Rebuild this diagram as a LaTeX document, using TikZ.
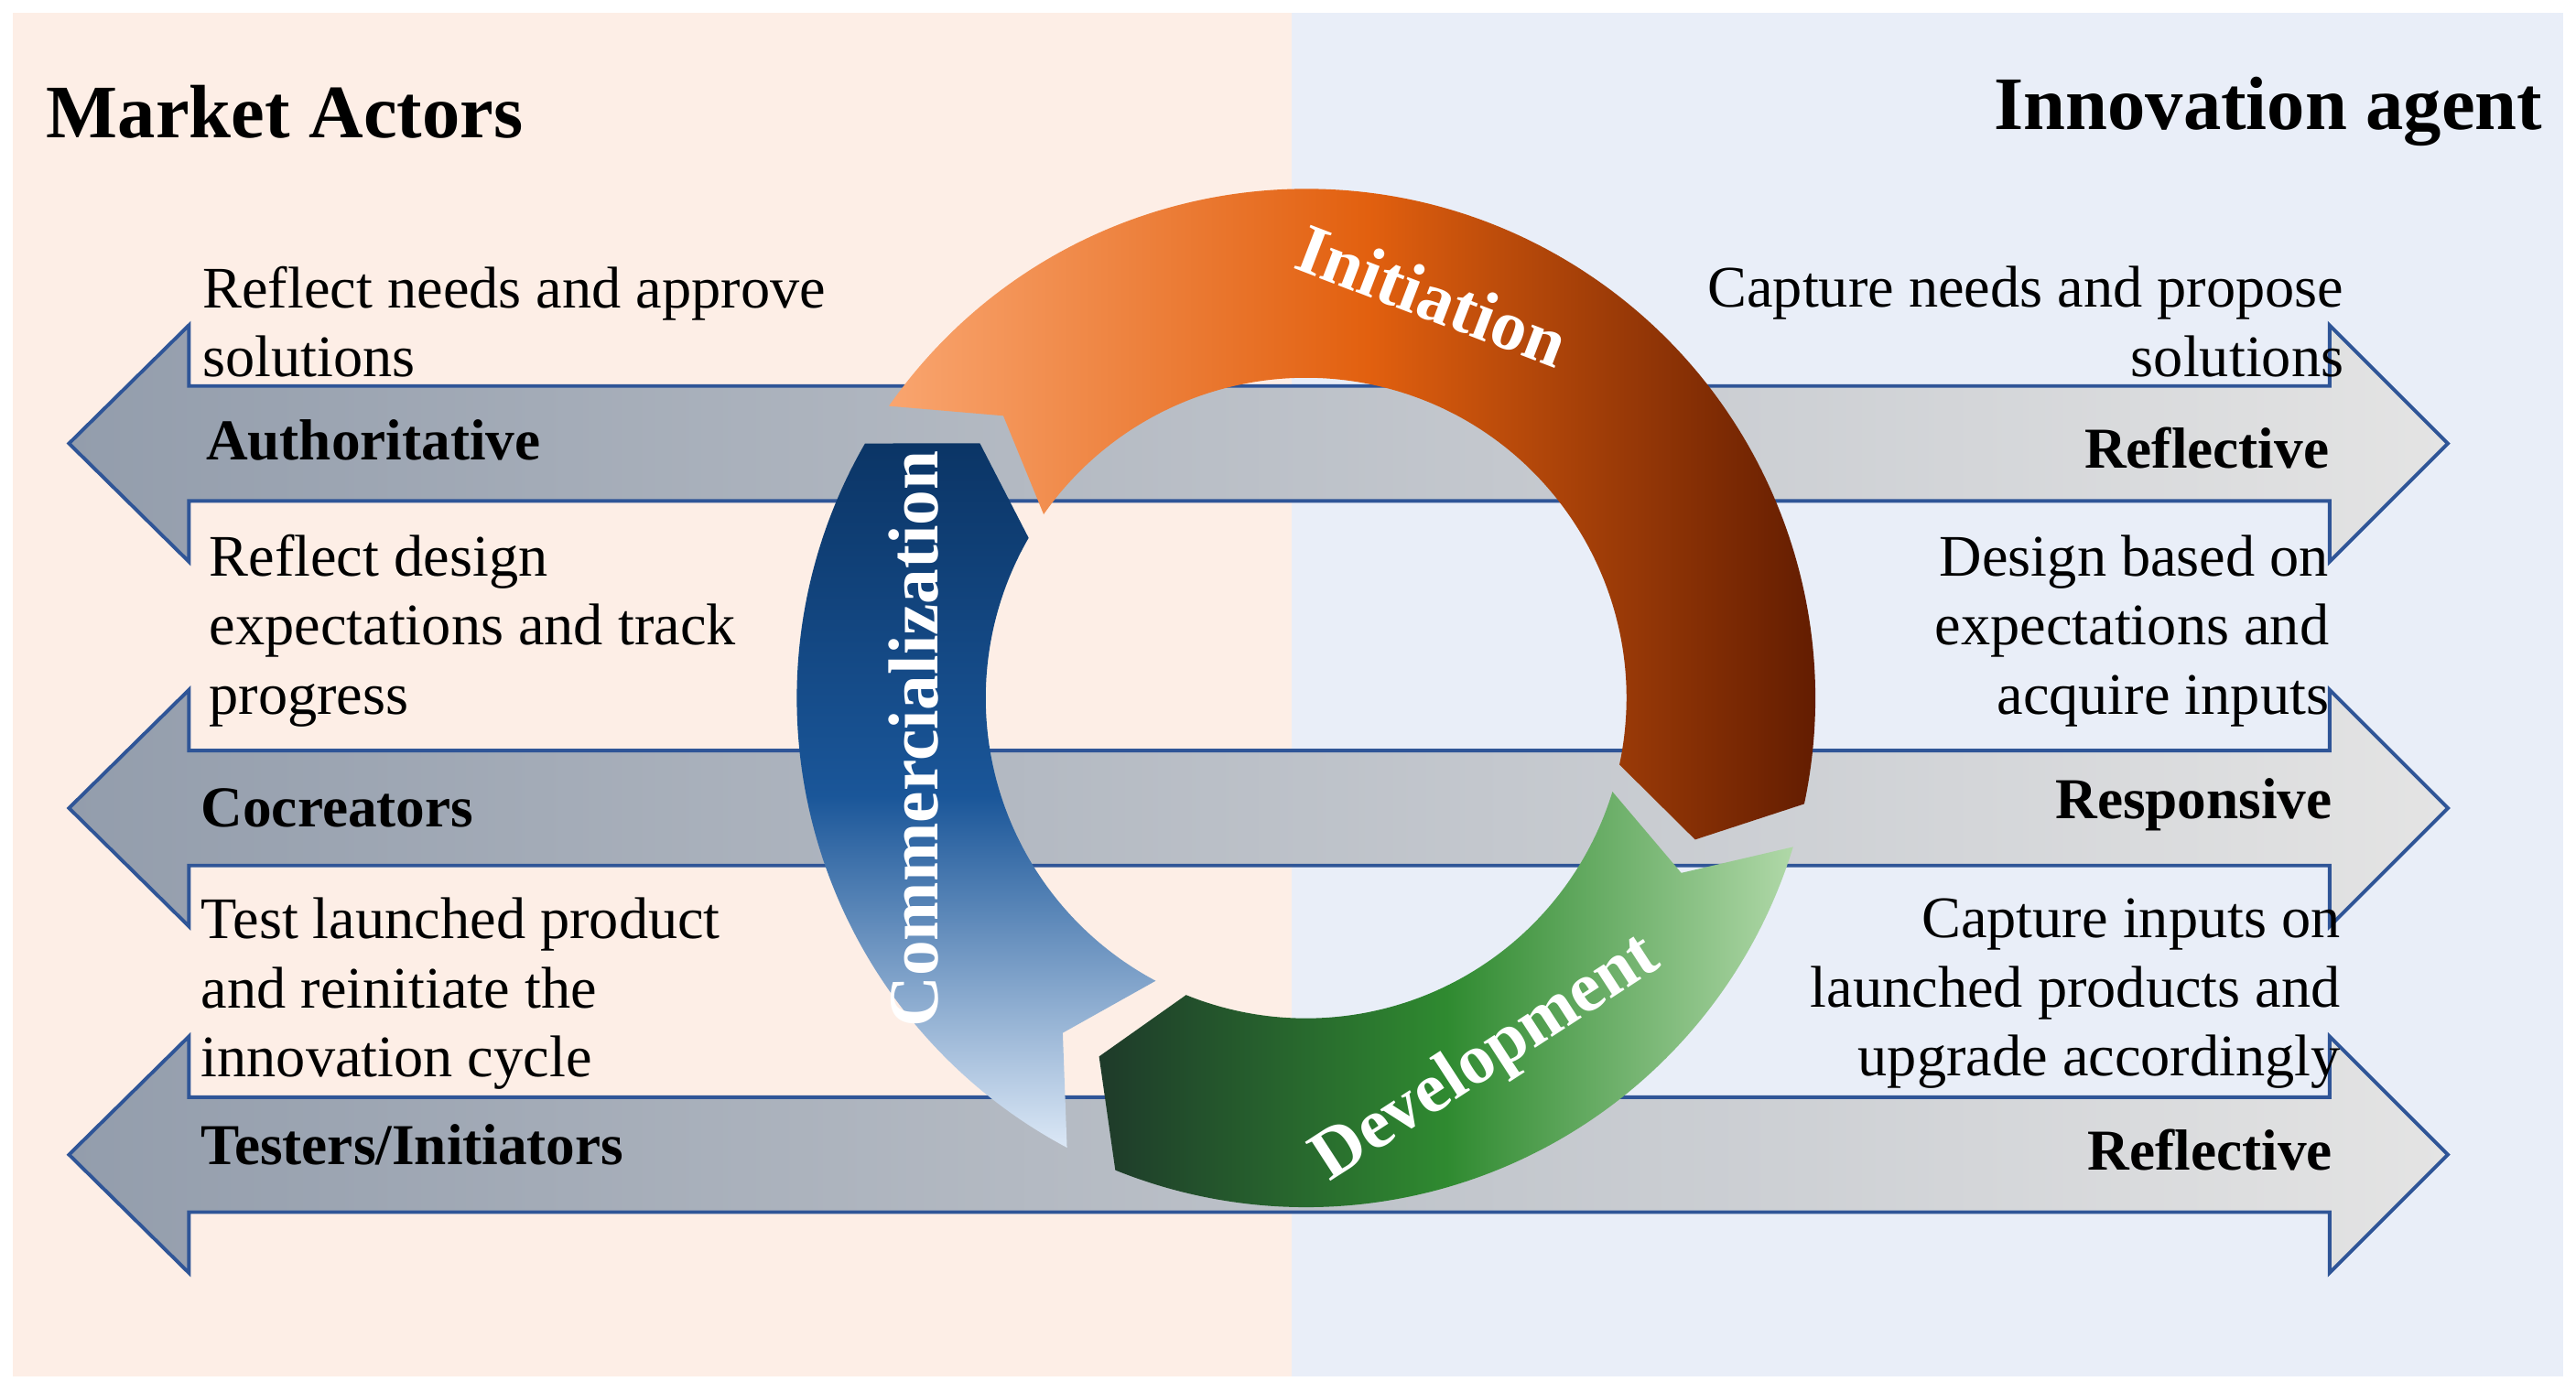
\documentclass[tikz,border=0pt]{standalone}
\usepackage{fontspec}
\setmainfont{Liberation Serif}
\usetikzlibrary{calc}
\definecolor{peach}{HTML}{FDEEE6}
\definecolor{paleblue}{HTML}{E9EEF8}
\definecolor{arrowline}{HTML}{2F5597}
\definecolor{arrowdark}{HTML}{939DAC}
\definecolor{arrowlight}{HTML}{E4E4E4}
\definecolor{initlight}{HTML}{F9A56F}
\definecolor{initmid}{HTML}{E2600F}
\definecolor{initdark}{HTML}{5A1800}
\definecolor{devdark}{HTML}{1E3A2A}
\definecolor{devmid}{HTML}{2F8A30}
\definecolor{devlight}{HTML}{B0D8A8}
\definecolor{commdark}{HTML}{0B3566}
\definecolor{commmid}{HTML}{1A5699}
\definecolor{commlight}{HTML}{DCE8F6}
\tikzset{
  txt/.style={font=\fontsize{18.3}{21.5}\selectfont, inner sep=0pt, align=left},
  txtr/.style={txt, align=right, anchor=east},
  role/.style={font=\fontsize{18}{21.5}\selectfont\bfseries, inner sep=0pt},
  title/.style={font=\fontsize{23.5}{27}\selectfont\bfseries, inner sep=0pt},
  seglabel/.style={font=\fontsize{22}{26}\selectfont\bfseries, text=white, inner sep=0pt},
  dblarrow/.style={left color=arrowdark, right color=arrowlight, draw=arrowline, line width=1.1pt}
}
% seta dupla horizontal com centro em y
\newcommand{\dblarrowat}[1]{%
  \shade[dblarrow] (42,#1) -- (115,#1-72) -- (115,#1-35) -- (1418,#1-35) -- (1418,#1-72)
    -- (1490,#1) -- (1418,#1+72) -- (1418,#1+35) -- (115,#1+35) -- (115,#1+72) -- cycle;}
% segmento do anel: angulo inicial, final, sombreamento
\newcommand{\ringseg}[3]{%
  \shade[#3] ($(c)+(#1:310)$) arc (#1:#2:310) -- ($(c)+(#2+8:252)$) -- ($(c)+(#2:195)$)
    arc (#2:#1:195) -- ($(c)+(#1+8:252)$) -- cycle;}
\begin{document}
\begin{tikzpicture}[x=0.01795cm, y=-0.01795cm]
    \useasboundingbox (0,0) rectangle (1568,847);
    % Fundos
    \fill[peach] (8,8) rectangle (786,838);
    \fill[paleblue] (786,8) rectangle (1560,838);
    % Setas duplas
    \dblarrowat{270}
    \dblarrowat{492}
    \dblarrowat{703}
    % Anel do ciclo
    \coordinate (c) at (795,425);
    \ringseg{-145}{12}{left color=initlight, right color=initdark, middle color=initmid}
    \ringseg{17}{112}{left color=devdark, right color=devlight, middle color=devmid}
    \ringseg{118}{210}{top color=commdark, bottom color=commlight, middle color=commmid}
    % Rotulos do anel
    \node[seglabel, rotate=-21] (init) at (872,180) {Initiation};
    \node[seglabel, rotate=90] (comm) at (556,450) {Commercialization};
    \node[seglabel, rotate=33] (dev) at (905,645) {Development};
    % Titulos
    \node[title, anchor=west] (ma) at (28,68) {Market Actors};
    \node[title, anchor=east] (ia) at (1548,68) {Innovation agent};
    % Textos da esquerda
    \node[txt, anchor=west] (l1) at (123,196) {Reflect needs and approve\\solutions};
    \node[role, anchor=west] (r1) at (125,268) {Authoritative};
    \node[txt, anchor=west] (l2) at (127,384) {Reflect design\\expectations and track\\progress};
    \node[role, anchor=west] (r2) at (122,492) {Cocreators};
    \node[txt, anchor=west] (l3) at (122,605) {Test launched product\\and reinitiate the\\innovation cycle};
    \node[role, anchor=west] (r3) at (122,697) {Testers/Initiators};
    % Textos da direita
    \node[txtr] (t1) at (1427,196) {Capture needs and propose\\solutions};
    \node[role, anchor=east] (s1) at (1418,273) {Reflective};
    \node[txtr] (t2) at (1418,384) {Design based on\\expectations and\\acquire inputs};
    \node[role, anchor=east] (s2) at (1420,490) {Responsive};
    \node[txtr] (t3) at (1425,605) {Capture inputs on\\launched products and\\upgrade accordingly};
    \node[role, anchor=east] (s3) at (1420,700) {Reflective};
\end{tikzpicture}
\end{document}
